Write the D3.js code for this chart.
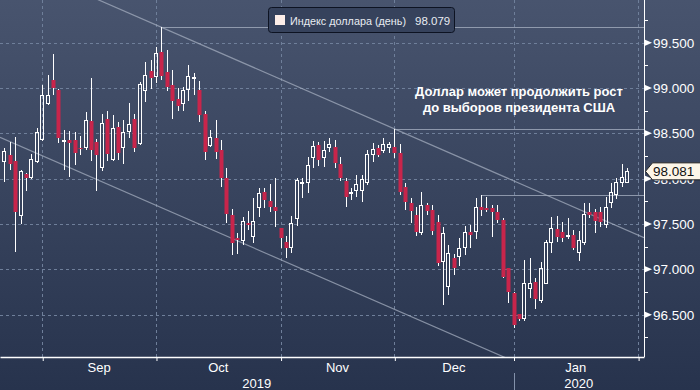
<!DOCTYPE html>
<html>
<head>
<meta charset="utf-8">
<script src="https://cdn.jsdelivr.net/npm/d3@7"></script>
<style>
  html, body { margin: 0; padding: 0; background: #2b3751; }
  svg { display: block; }
  text { font-family: "Liberation Sans", Arial, sans-serif; }
</style>
</head>
<body>
<svg id="chart"></svg>
<script>
// daily candles, one per weekday starting 21 Aug 2019
const opens = [98.18,98.26,98.20,97.59,98.05,98.01,98.18,98.43,98.82,99.09,
  98.98,98.41,98.43,98.43,98.34,98.34,98.64,98.41,98.12,98.66,
  98.21,98.57,98.34,98.52,98.66,98.38,98.97,99.19,99.12,99.40,
  99.18,99.03,98.88,98.82,98.98,99.10,98.98,98.71,98.36,98.45,
  98.32,98.01,97.60,97.35,97.31,97.51,97.36,97.68,97.85,97.75,
  97.69,97.46,97.30,97.24,97.56,97.95,97.95,98.23,98.37,98.23,
  98.34,98.35,98.16,97.98,97.83,97.86,97.86,97.95,98.26,98.34,
  98.31,98.34,98.35,98.28,97.91,97.73,97.60,97.40,97.71,97.66,
  97.52,97.08,96.81,97.13,97.14,97.24,97.41,97.41,97.69,97.68,
  97.68,97.63,97.55,97.02,96.74,96.51,96.45,96.78,96.86,96.65,
  96.84,97.29,97.45,97.41,97.36,97.38,97.18,97.29,97.63,97.63,
  97.63,97.49,97.73,97.82,97.95,97.95];
const highs = [98.34,98.41,98.46,98.10,98.06,98.27,98.56,99.03,99.14,99.38,
  98.99,98.54,98.53,98.52,98.47,98.74,99.11,98.44,98.71,98.75,
  98.70,98.63,98.65,98.84,98.71,99.07,99.29,99.31,99.45,99.67,
  99.42,99.20,99.00,99.01,99.25,99.17,99.08,98.75,98.54,98.65,
  98.43,98.12,97.67,97.40,97.58,97.64,97.79,97.90,97.90,97.94,
  98.01,97.46,97.37,97.59,98.01,98.01,98.24,98.42,98.41,98.42,
  98.45,98.43,98.24,98.01,97.90,98.04,98.04,98.32,98.39,98.37,
  98.45,98.41,98.55,98.38,97.95,97.79,97.69,97.85,97.73,97.71,
  97.60,97.47,97.27,97.17,97.35,97.48,97.49,97.79,97.82,97.80,
  97.71,97.71,97.57,97.02,96.75,96.51,97.10,97.12,96.91,97.08,
  97.32,97.58,97.59,97.52,97.57,97.43,97.42,97.73,97.73,97.67,
  97.69,97.80,97.95,98.01,98.16,98.12];
const lows = [97.96,98.10,97.19,97.50,97.86,98.00,98.17,98.42,98.81,98.92,
  98.39,98.10,98.02,98.15,98.26,98.32,98.20,97.86,98.09,98.20,
  98.20,98.21,98.16,98.45,98.29,98.37,98.85,98.99,99.06,99.09,
  98.97,98.66,98.75,98.75,98.86,98.92,98.63,98.21,98.35,98.22,
  97.91,97.51,97.16,97.17,97.27,97.43,97.29,97.58,97.68,97.63,
  97.47,97.24,97.13,97.18,97.48,97.79,97.84,98.12,98.14,98.13,
  98.30,98.12,97.98,97.69,97.77,97.80,97.74,97.93,98.18,98.24,
  98.28,98.28,98.23,97.82,97.66,97.51,97.37,97.38,97.60,97.38,
  97.04,96.61,96.72,96.94,97.04,97.16,97.24,97.34,97.59,97.63,
  97.36,97.51,96.91,96.63,96.35,96.43,96.43,96.68,96.56,96.63,
  96.84,97.18,97.30,97.30,97.34,97.21,97.09,97.27,97.57,97.40,
  97.47,97.46,97.68,97.78,97.91,97.95];
const closes = [98.31,98.16,97.63,98.08,98.01,98.22,98.52,98.92,98.92,99.00,
  98.45,98.43,98.39,98.28,98.33,98.65,98.32,98.26,98.61,98.27,
  98.56,98.28,98.52,98.60,98.34,99.05,99.14,99.11,99.39,99.13,
  99.01,98.86,98.80,98.98,99.13,99.12,98.70,98.30,98.46,98.30,
  98.01,97.61,97.29,97.32,97.53,97.49,97.53,97.84,97.77,97.69,
  97.64,97.35,97.24,97.51,97.99,97.96,98.15,98.36,98.21,98.32,
  98.38,98.17,98.01,97.80,97.85,97.94,98.00,98.27,98.33,98.26,
  98.38,98.38,98.28,97.85,97.74,97.64,97.41,97.71,97.64,97.42,
  97.07,97.40,97.18,97.02,97.24,97.41,97.38,97.69,97.66,97.66,
  97.63,97.55,96.92,96.75,96.39,96.45,96.85,96.85,96.67,97.02,
  97.30,97.46,97.36,97.35,97.38,97.24,97.32,97.61,97.60,97.53,
  97.52,97.69,97.85,97.96,98.02,98.081];

// index of the first weekday of each month (Sep..Feb)
const monthTicks = [7, 28, 51, 72, 94, 117];
const monthLabels = ['Sep', 'Oct', 'Nov', 'Dec', 'Jan'];
const yearLabels = ['2019', '2020'];
const yearBreak = 94;
const yMajor = [96.5, 97, 97.5, 98, 98.5, 99, 99.5];
const yMinor = [96.25, 96.75, 97.25, 97.75, 98.25, 98.75, 99.25, 99.75];

// channel drawn through two highs, resistance lines from three highs
const channelIdx = [29, 72];
const channelWidth = 1.99;
const resistanceIdx = [29, 72, 88];

const legendName = 'Индекс доллара (день)';
const legendValue = 98.079;
const noteLines = ['Доллар может продолжить рост', 'до выборов президента США'];

const W = 700, H = 390;
const plotRight = 644, plotBottom = 357;
const red = '#c8254b';

const svg = d3.select('#chart').attr('width', W).attr('height', H);
const defs = svg.append('defs');
const grad = defs.append('linearGradient').attr('id', 'bg')
  .attr('x1', 0).attr('y1', 0).attr('x2', 0).attr('y2', 1);
grad.append('stop').attr('offset', '0%').attr('stop-color', '#48546e');
grad.append('stop').attr('offset', '100%').attr('stop-color', '#27334d');
defs.append('clipPath').attr('id', 'clip').append('rect')
  .attr('x', 0).attr('y', 0).attr('width', plotRight).attr('height', plotBottom);

svg.append('rect').attr('width', W).attr('height', H).attr('fill', 'url(#bg)');

const x = d3.scaleLinear().domain([-0.794, 118.09]).range([0, plotRight]);
const y = d3.scaleLinear().domain([96.5, 99.5]).range([314.7, 42.7]);
const px = v => Math.round(v) + 0.5;

// grid
svg.append('g').selectAll('line').data(yMajor).join('line')
  .attr('x1', 0).attr('x2', plotRight)
  .attr('y1', d => px(y(d))).attr('y2', d => px(y(d)))
  .attr('stroke', '#6f7f9a').attr('stroke-dasharray', '3,3');
svg.append('g').selectAll('line').data(monthTicks).join('line')
  .attr('x1', d => px(x(d))).attr('x2', d => px(x(d)))
  .attr('y1', 0).attr('y2', plotBottom)
  .attr('stroke', '#6f7f9a').attr('stroke-dasharray', '3,3');

// trend channel + resistance levels
const lines = svg.append('g').attr('clip-path', 'url(#clip)');
const slope = (highs[channelIdx[1]] - highs[channelIdx[0]]) / (channelIdx[1] - channelIdx[0]);
const upper = i => highs[channelIdx[0]] + slope * (i - channelIdx[0]);
const [i0, i1] = x.domain();
[0, channelWidth].forEach(off => {
  lines.append('line')
    .attr('x1', x(i0)).attr('y1', y(upper(i0) - off))
    .attr('x2', x(i1)).attr('y2', y(upper(i1) - off))
    .attr('stroke', '#a3acbe').attr('stroke-opacity', 0.75).attr('stroke-width', 1.2);
});
lines.selectAll('.res').data(resistanceIdx).join('line')
  .attr('class', 'res')
  .attr('x1', d => x(d)).attr('x2', plotRight)
  .attr('y1', d => px(y(highs[d]))).attr('y2', d => px(y(highs[d])))
  .attr('stroke', '#a3acbe').attr('stroke-opacity', 0.8).attr('stroke-width', 1.2);

// candles
const candles = svg.append('g').selectAll('g').data(opens.map((o, i) => ({
  i, o, h: highs[i], l: lows[i], c: closes[i]
}))).join('g');

candles.each(function(d) {
  const g = d3.select(this);
  const cx = Math.round(x(d.i));
  const top = Math.round(y(Math.max(d.o, d.c)));
  const bot = Math.max(Math.round(y(Math.min(d.o, d.c))), top + 1);
  const hi = Math.round(y(d.h)), lo = Math.round(y(d.l));
  if (d.c >= d.o) {
    g.append('line').attr('x1', cx + 0.5).attr('x2', cx + 0.5)
      .attr('y1', hi).attr('y2', top).attr('stroke', '#fff');
    g.append('line').attr('x1', cx + 0.5).attr('x2', cx + 0.5)
      .attr('y1', bot).attr('y2', lo).attr('stroke', '#fff');
    g.append('rect').attr('x', cx - 1.5).attr('y', top + 0.5)
      .attr('width', 3).attr('height', Math.max(bot - top - 1, 1))
      .attr('fill', 'none').attr('stroke', '#fff');
  } else {
    g.append('line').attr('x1', cx + 0.5).attr('x2', cx + 0.5)
      .attr('y1', hi).attr('y2', lo).attr('stroke', '#fff');
    g.append('rect').attr('x', cx - 1.5).attr('y', top)
      .attr('width', 4).attr('height', bot - top).attr('fill', red);
  }
});

// x axis
const xAxis = d3.axisBottom(x).tickValues(monthTicks).tickFormat('')
  .tickSize(4).tickSizeOuter(0);
const gx = svg.append('g').attr('transform', `translate(0,${plotBottom})`).call(xAxis);
gx.select('.domain').attr('stroke', '#fff').attr('stroke-width', 1.5);
gx.selectAll('.tick line').attr('stroke', '#fff').attr('transform', 'translate(0.5,0)');

svg.append('g').selectAll('text').data(monthLabels).join('text')
  .attr('x', (d, k) => (x(monthTicks[k]) + x(monthTicks[k + 1])) / 2)
  .attr('y', 372).attr('text-anchor', 'middle')
  .attr('fill', '#fff').attr('font-size', 13).text(d => d);

const yearSpans = [[0, x(yearBreak)], [x(yearBreak), plotRight]];
svg.append('g').selectAll('text').data(yearLabels).join('text')
  .attr('x', (d, k) => (yearSpans[k][0] + yearSpans[k][1]) / 2)
  .attr('y', 388).attr('text-anchor', 'middle')
  .attr('fill', '#fff').attr('font-size', 13).text(d => d);
svg.append('line')
  .attr('x1', px(x(yearBreak))).attr('x2', px(x(yearBreak)))
  .attr('y1', 373).attr('y2', H)
  .attr('stroke', '#8391aa');

// y axis (right)
svg.append('line').attr('x1', plotRight + 0.5).attr('x2', plotRight + 0.5)
  .attr('y1', 0).attr('y2', plotBottom).attr('stroke', '#fff');
svg.append('g').selectAll('line').data(yMinor).join('line')
  .attr('x1', plotRight).attr('x2', plotRight + 4)
  .attr('y1', d => px(y(d))).attr('y2', d => px(y(d)))
  .attr('stroke', '#fff');
svg.append('g').selectAll('path').data(yMajor).join('path')
  .attr('d', d => `M${plotRight},${y(d) - 3.5}L${plotRight + 8},${y(d)}L${plotRight},${y(d) + 3.5}Z`)
  .attr('fill', '#fff');
svg.append('g').selectAll('text').data(yMajor).join('text')
  .attr('x', plotRight + 9).attr('y', d => y(d)).attr('dy', '0.36em')
  .attr('fill', '#fff').attr('font-size', 13.5).text(d => d3.format('.3f')(d));

// last price tag (sits over the 98.000 label, as in the source)
const lastY = y(closes[closes.length - 1]);
svg.append('path')
  .attr('d', `M${plotRight + 1.5},${lastY}L${plotRight + 8.5},${lastY - 8.5}L${W + 2},${lastY - 8.5}L${W + 2},${lastY + 8.5}L${plotRight + 8.5},${lastY + 8.5}Z`)
  .attr('fill', '#fdf6e8').attr('stroke', '#222');
svg.append('text').attr('x', plotRight + 9).attr('y', lastY).attr('dy', '0.36em')
  .attr('fill', '#111').attr('font-size', 13.5)
  .text(d3.format('.3f')(closes[closes.length - 1]));

// legend
const lg = svg.append('g');
lg.append('rect').attr('x', 268.5).attr('y', 7.5).attr('width', 186).attr('height', 25)
  .attr('rx', 3).attr('fill', '#36425c').attr('stroke', '#0d1322');
lg.append('rect').attr('x', 275).attr('y', 15).attr('width', 10).attr('height', 10)
  .attr('fill', '#fdeee8');
lg.append('text').attr('x', 290).attr('y', 24.5).attr('fill', '#e8ecf2')
  .attr('font-size', 11.5).attr('textLength', 116).attr('lengthAdjust', 'spacingAndGlyphs')
  .text(legendName);
lg.append('text').attr('x', 415).attr('y', 24.5)
  .attr('fill', '#e8ecf2').attr('font-size', 11.5).text(d3.format('.3f')(legendValue));

// annotation
svg.append('g').selectAll('text').data(noteLines).join('text')
  .attr('x', 519).attr('y', (d, k) => 96 + k * 15.5).attr('text-anchor', 'middle')
  .attr('fill', '#fff').attr('font-size', 13).attr('font-weight', 'bold').text(d => d);
</script>
</body>
</html>
